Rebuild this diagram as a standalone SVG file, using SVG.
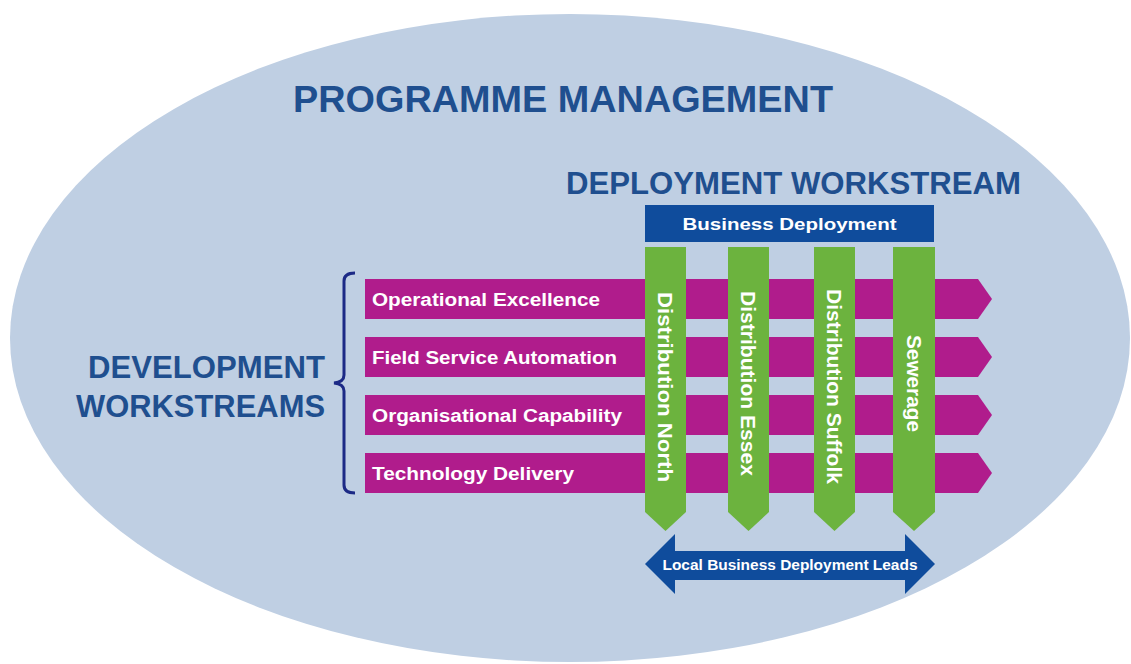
<svg xmlns="http://www.w3.org/2000/svg" width="1131" height="664" viewBox="0 0 1131 664">
<style>
  .title { font-family: "Liberation Sans", Arial, sans-serif; font-weight: bold; fill: #1f4f8f; }
  .lbl { font-family: "Liberation Sans", Arial, sans-serif; font-weight: bold; fill: #ffffff; }
  .row { fill: #b01c8c; }
  .col { fill: #6cb33e; }
  .navy { fill: #0f4c9c; }
</style>
<rect x="0" y="0" width="1131" height="664" fill="#ffffff"/>
<g id="programme">
  <ellipse cx="570" cy="338" rx="560" ry="324" fill="#bfcfe3"/>
  <text class="title" x="293" y="112" font-size="36" textLength="540" lengthAdjust="spacingAndGlyphs">PROGRAMME MANAGEMENT</text>
</g>
<g id="development-title">
  <text class="title" x="325" y="378" font-size="32" text-anchor="end" textLength="237" lengthAdjust="spacingAndGlyphs">DEVELOPMENT</text>
  <text class="title" x="325" y="417" font-size="32" text-anchor="end" textLength="249" lengthAdjust="spacingAndGlyphs">WORKSTREAMS</text>
</g>
<g id="deployment-title">
  <text class="title" x="566" y="194" font-size="32" textLength="455" lengthAdjust="spacingAndGlyphs">DEPLOYMENT WORKSTREAM</text>
</g>
<g id="connectors">
  <path d="M355,273 Q344,273 344,281 L344,375 Q344,382 334,383 Q344,384 344,391 L344,485 Q344,493 355,493" fill="none" stroke="#1c2a86" stroke-width="3"/>
</g>
<g id="row-operational">
  <polygon class="row" points="365,279 978,279 992,299 978,319 365,319"/>
  <text class="lbl" x="372" y="305.5" font-size="18" textLength="228" lengthAdjust="spacingAndGlyphs">Operational Excellence</text>
</g>
<g id="row-field">
  <polygon class="row" points="365,337 978,337 992,357 978,377 365,377"/>
  <text class="lbl" x="372" y="363.5" font-size="18" textLength="245" lengthAdjust="spacingAndGlyphs">Field Service Automation</text>
</g>
<g id="row-organisational">
  <polygon class="row" points="365,395 978,395 992,415 978,435 365,435"/>
  <text class="lbl" x="372" y="421.5" font-size="18" textLength="250" lengthAdjust="spacingAndGlyphs">Organisational Capability</text>
</g>
<g id="row-technology">
  <polygon class="row" points="365,453 978,453 992,473 978,493 365,493"/>
  <text class="lbl" x="372" y="479.5" font-size="18" textLength="202" lengthAdjust="spacingAndGlyphs">Technology Delivery</text>
</g>
<g id="business-deployment">
  <rect class="navy" x="645" y="205" width="289" height="37"/>
  <text class="lbl" x="789.5" y="230" font-size="17" text-anchor="middle" textLength="214" lengthAdjust="spacingAndGlyphs">Business Deployment</text>
</g>
<g id="col-north">
  <polygon class="col" points="645,247 686,247 686,512 665.5,531 645,512"/>
  <text class="lbl" transform="translate(658,292) rotate(90)" font-size="21" textLength="190" lengthAdjust="spacingAndGlyphs">Distribution North</text>
</g>
<g id="col-essex">
  <polygon class="col" points="728,247 769,247 769,512 748.5,531 728,512"/>
  <text class="lbl" transform="translate(741,291) rotate(90)" font-size="21" textLength="185" lengthAdjust="spacingAndGlyphs">Distribution Essex</text>
</g>
<g id="col-suffolk">
  <polygon class="col" points="814,247 855,247 855,512 834.5,531 814,512"/>
  <text class="lbl" transform="translate(827,289) rotate(90)" font-size="21" textLength="195" lengthAdjust="spacingAndGlyphs">Distribution Suffolk</text>
</g>
<g id="col-sewerage">
  <polygon class="col" points="893,247 935,247 935,512 914,531 893,512"/>
  <text class="lbl" transform="translate(906.5,335) rotate(90)" font-size="21" textLength="97" lengthAdjust="spacingAndGlyphs">Sewerage</text>
</g>
<g id="local-leads">
  <polygon class="navy" points="645,564 675,534 675,551 905,551 905,534 935,564 905,594 905,580 675,580 675,594"/>
  <text class="lbl" x="790" y="570" font-size="15" text-anchor="middle" textLength="255" lengthAdjust="spacingAndGlyphs">Local Business Deployment Leads</text>
</g>
</svg>
